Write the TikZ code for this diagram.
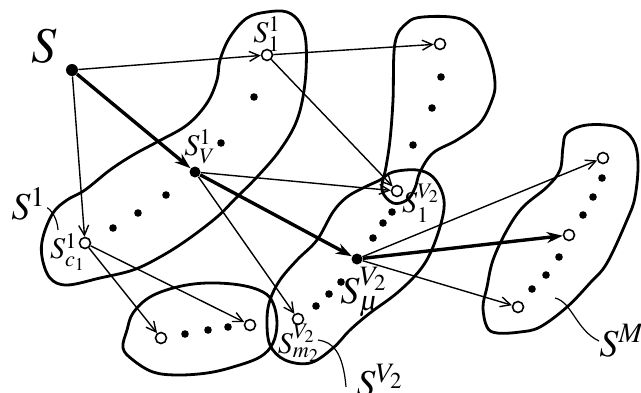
\documentclass[tikz,border=0pt]{standalone}
\usepackage{mathptmx}
\usetikzlibrary{arrows.meta}

\begin{document}
\begin{tikzpicture}[x=0.5pt,y=-0.5pt]
\tikzset{
  openv/.style={circle,draw,line width=.8pt,fill=white,inner sep=0pt,minimum size=5.5pt},
  fullv/.style={circle,fill,inner sep=0pt,minimum size=5.5pt},
  dotv/.style={circle,fill,inner sep=0pt,minimum size=3.8pt},
  thinarr/.style={line width=.7pt,-{Straight Barb[length=5pt,width=5pt]}},
  thickarr/.style={line width=1.7pt,-{Stealth[length=8pt,width=5.5pt]}},
  blob/.style={line width=1.4pt},
  squig/.style={line width=.6pt},
  lbl/.style={inner sep=0pt,font=\fontsize{15}{15}\selectfont},
  midlbl/.style={inner sep=0pt,font=\fontsize{19}{19}\selectfont},
  biglbl/.style={inner sep=0pt,font=\fontsize{25}{25}\selectfont}
}
\useasboundingbox (0,0) rectangle (641,392);

% sets drawn as closed free-hand outlines
\draw[blob] plot[smooth cycle,tension=.6] coordinates {(267,12) (287,12) (300,23) (306,43) (305,83) (297,120)
  (280,150) (257,177) (235,199) (217,217) (187,240) (160,257) (133,270) (100,278) (67,285) (50,278)
  (42,257) (43,237) (53,213) (67,200) (85,190) (110,170) (133,155) (157,142) (187,125) (207,103)
  (217,80) (220,60) (230,37) (247,18)};
\draw[blob] plot[smooth cycle,tension=.6] coordinates {(423,17) (407,23) (395,43) (393,100) (390,140)
  (386,167) (382,190) (393,203) (407,200) (415,188) (420,172) (433,153) (457,140) (480,123)
  (492,100) (495,83) (490,57) (477,30) (457,18)};
\draw[blob] plot[smooth cycle,tension=.6] coordinates {(380,180) (393,172) (417,170) (433,177) (443,195)
  (443,215) (433,247) (420,270) (397,293) (370,313) (350,330) (333,348) (310,363) (285,360)
  (270,345) (267,320) (270,300) (280,280) (297,260) (317,240) (333,212) (347,197) (365,187)};
\draw[blob] plot[smooth cycle,tension=.6] coordinates {(127,330) (133,313) (150,297) (177,287) (207,283)
  (240,285) (263,292) (273,303) (277,323) (273,343) (260,357) (233,367) (207,373) (177,375)
  (153,372) (133,360) (123,348)};
\draw[blob] plot[smooth cycle,tension=.6] coordinates {(567,133) (587,125) (617,127) (633,140) (638,163)
  (635,197) (627,220) (607,263) (590,283) (567,307) (540,327) (520,332) (497,333) (487,327)
  (483,307) (487,287) (493,260) (507,230) (523,207) (547,187) (560,170) (563,147)};

% vertices
\node[fullv,minimum size=6pt] (s) at (72,70) {};
\node[openv] (s11) at (267,55) {};
\node[openv] (t1) at (440,44) {};
\node[fullv] (sv1) at (195,172) {};
\node[openv] (s1v2) at (397,191) {};
\node[fullv] (smu) at (357,259) {};
\node[openv] (sc1) at (85,243) {};
\node[openv] (b1) at (161,338) {};
\node[openv] (b2) at (250,325) {};
\node[openv] (sm2) at (298,319) {};
\node[openv] (r1) at (603,158) {};
\node[openv] (r2) at (569,235) {};
\node[openv] (r3) at (518,307) {};

% the dotted runs of states
\foreach \p in {(254,97),(221,143),(166,195),(138,213),(113,228),
                (441,77),(432,108),(413,145),
                (392,212),(383,223),(373,238),(341,282),(329,294),(316,306),
                (185,334),(208,330),(228,327),
                (602,178),(593,197),(583,215),(559,257),(546,275),(532,289)}
  \node[dotv] at \p {};

% transitions
\draw[thinarr] (s) -- (s11);
\draw[thinarr] (s11) -- (t1);
\draw[thinarr] (s) -- (sc1);
\draw[thinarr] (s11) -- (s1v2);
\draw[thinarr] (sv1) -- (s1v2);
\draw[thinarr] (sv1) -- (sm2);
\draw[thinarr] (sc1) -- (b1);
\draw[thinarr] (sc1) -- (b2);
\draw[thinarr] (smu) -- (r1);
\draw[thinarr] (smu) -- (r3);
\draw[thickarr] (s) -- (sv1);
\draw[thickarr] (sv1) -- (smu);
\draw[thickarr] (smu) -- (r2);

% labels
\node[biglbl] (ls) at (44,46) {$S$};
\node[lbl] (ls11) at (267,34) {$S^{1}_{1}$};
\node[lbl] (lsv1) at (200,147) {$S^{1}_{V}$};
\node[lbl] (ls1v2) at (421,203) {$S^{V_2}_{1}$};
\node[midlbl] (lsmu) at (364,292) {$S^{V_2}_{\mu}$};
\node[lbl] (lsm2) at (299,343) {$S^{V_2}_{m_2}$};
\node[lbl] (lsc1) at (68,252) {$S^{1}_{c_1}$};
\node[midlbl,anchor=west] (lset1) at (11,204) {$S^{1}$};
\node[midlbl,anchor=west] (lsetv2) at (356,381) {$S^{V_2}$};
\node[midlbl,anchor=west] (lsetm3) at (599,341) {$S^{M_3}$};

\draw[squig] (lset1.east) ++(1,4) .. controls (47,207) and (57,214) .. (58,230);
\draw[squig] (318,340) .. controls (333,342) and (343,352) .. (346,387);
\draw[squig] (555,298) .. controls (572,302) and (576,330) .. (lsetm3.west);
\end{tikzpicture}
\end{document}
